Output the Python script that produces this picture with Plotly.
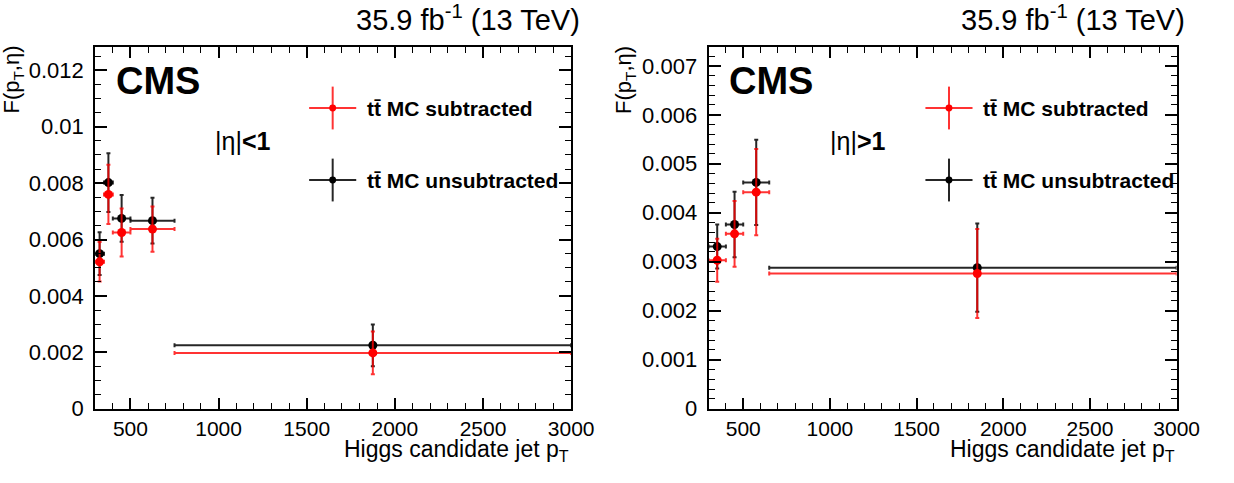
import plotly.graph_objects as go

# ---------------- data ----------------
# Left panel: |eta| < 1
xL = [325, 375, 450, 625, 1875]
xL_lo = [300, 350, 400, 500, 750]
xL_hi = [350, 400, 500, 750, 3000]
subL = [0.00521, 0.00760, 0.00625, 0.00637, 0.00198]
subL_err = [0.00070, 0.00105, 0.00085, 0.00080, 0.00076]
unsubL = [0.00550, 0.00802, 0.00675, 0.00667, 0.00225]
unsubL_err = [0.00076, 0.00104, 0.00083, 0.00081, 0.00074]

# Right panel: |eta| > 1
xR = [350, 450, 575, 1850]
xR_lo = [300, 400, 500, 650]
xR_hi = [400, 500, 650, 3000]
subR = [0.00303, 0.00357, 0.00442, 0.00276]
subR_err = [0.00044, 0.00067, 0.00088, 0.00091]
unsubR = [0.00331, 0.00376, 0.00462, 0.00288]
unsubR_err = [0.00045, 0.00067, 0.00087, 0.00090]

labels = ["t\u0074\u0304 MC subtracted", "t\u0074\u0304 MC unsubtracted"]
lumi_text = "35.9 fb<sup>-1</sup> (13 TeV)"
xtitle = "Higgs candidate jet p<sub>T</sub>"
ytitle = "F(p<sub>T</sub>,η)"

# ---------------- style ----------------
W, H = 1234, 483
FONT = "Liberation Sans"
RED_L = "rgba(255,0,0,0.80)"
RED_M = "rgb(255,0,0)"
BLK_L = "rgba(0,0,0,0.85)"
BLK_M = "rgb(0,0,0)"

def px(x):
    return x / W

def py(y):
    return 1 - y / H

panels = [
    dict(x=xL, lo=xL_lo, hi=xL_hi, sub=subL, suberr=subL_err, uns=unsubL, unserr=unsubL_err,
         xdom=(97, 582), yrange=[0, 0.01284], dtick=0.002, minor=0.0005, eta="|η|<b><1</b>",
         eta_x=217, leg_x=339, leg_tx=372, ytitle_x=13, suffix=""),
    dict(x=xR, lo=xR_lo, hi=xR_hi, sub=subR, suberr=subR_err, uns=unsubR, unserr=unsubR_err,
         xdom=(722, 1199), yrange=[0, 0.00739], dtick=0.001, minor=0.0002, eta="|η|<b>>1</b>",
         eta_x=844, leg_x=967, leg_tx=1000, ytitle_x=637, suffix="2"),
]

fig = go.Figure()
annotations = []
shapes = []
ytop, ybot = 48, 420

for p in panels:
    sfx = p["suffix"]
    xa = "x" + sfx
    ya = "y" + sfx
    ex_plus = [h - c for h, c in zip(p["hi"], p["x"])]
    ex_minus = [c - l for l, c in zip(p["lo"], p["x"])]
    for yv, err, lc, mc in [(p["uns"], p["unserr"], BLK_L, BLK_M), (p["sub"], p["suberr"], RED_L, RED_M)]:
        fig.add_trace(go.Scatter(
            x=p["x"], y=yv, mode="markers", xaxis=xa, yaxis=ya, showlegend=False,
            marker=dict(color=mc, size=9),
            error_x=dict(type="data", array=ex_plus, arrayminus=ex_minus, symmetric=False,
                         color=lc, thickness=2, width=2),
            error_y=dict(type="data", array=err, color=lc, thickness=2, width=2),
        ))
    x0, x1 = p["xdom"]
    axis_common = dict(showline=True, linewidth=2, linecolor="black", mirror="allticks",
                       ticks="inside", tickwidth=1.5, tickcolor="black", showgrid=False,
                       zeroline=False)
    fig.update_layout(**{
        ("xaxis" + sfx): dict(domain=[px(x0), px(x1)], range=[300, 3000], tick0=500, dtick=500,
                              tickformat="d", ticklen=11, anchor=ya, ticklabelstandoff=0,
                              tickfont=dict(family=FONT, size=21, color="black"),
                              minor=dict(ticks="inside", dtick=100, ticklen=6, tickwidth=1.2,
                                         tickcolor="black", showgrid=False),
                              **axis_common),
        ("yaxis" + sfx): dict(domain=[py(ybot), py(ytop)], range=p["yrange"], tick0=0,
                              dtick=p["dtick"], ticklen=12, anchor=xa, ticklabelstandoff=5,
                              tickfont=dict(family=FONT, size=22, color="black"),
                              minor=dict(ticks="inside", dtick=p["minor"], ticklen=6, tickwidth=1.2,
                                         tickcolor="black", showgrid=False),
                              **axis_common),
    })
    # Top-right luminosity label
    annotations.append(dict(x=px(x1 + 11), y=py(39), xref="paper", yref="paper", xanchor="right",
                            yanchor="bottom", text=lumi_text, showarrow=False,
                            font=dict(family=FONT, size=29, color="black")))
    # x title
    annotations.append(dict(x=px(x1), y=py(480), xref="paper", yref="paper", xanchor="right",
                            yanchor="bottom", text=xtitle, showarrow=False,
                            font=dict(family=FONT, size=23, color="black")))
    # y title
    annotations.append(dict(x=px(p["ytitle_x"]), y=py(45), xref="paper", yref="paper",
                            xanchor="center", yanchor="top", textangle=-90, text=ytitle,
                            showarrow=False, font=dict(family=FONT, size=22, color="black")))
    # CMS
    annotations.append(dict(x=px(x0 + 19), y=py(83), xref="paper", yref="paper", xanchor="left",
                            yanchor="middle", text="<b>CMS</b>", showarrow=False,
                            font=dict(family=FONT, size=38, color="black")))
    # eta label
    annotations.append(dict(x=px(p["eta_x"]), y=py(145), xref="paper", yref="paper",
                            xanchor="left", yanchor="middle", text=p["eta"], showarrow=False,
                            font=dict(family=FONT, size=25, color="black")))
    # legend entries
    for yc, lc, mc, lab in [(111, RED_L, RED_M, labels[0]), (185, BLK_L, BLK_M, labels[1])]:
        lx = p["leg_x"]
        shapes.append(dict(type="line", xref="paper", yref="paper", x0=px(lx - 24), x1=px(lx + 24),
                           y0=py(yc), y1=py(yc), line=dict(color=lc, width=2)))
        shapes.append(dict(type="line", xref="paper", yref="paper", x0=px(lx), x1=px(lx),
                           y0=py(yc - 22), y1=py(yc + 22), line=dict(color=lc, width=2)))
        shapes.append(dict(type="circle", xref="paper", yref="paper", x0=px(lx - 3.5), x1=px(lx + 3.5),
                           y0=py(yc - 3.5), y1=py(yc + 3.5), fillcolor=mc, line=dict(width=0)))
        annotations.append(dict(x=px(p["leg_tx"]), y=py(yc + 1), xref="paper", yref="paper",
                                xanchor="left", yanchor="middle", text="<b>" + lab + "</b>",
                                showarrow=False, font=dict(family=FONT, size=21, color="black")))

fig.update_layout(width=W, height=H, margin=dict(l=0, r=0, t=0, b=0),
                  paper_bgcolor="white", plot_bgcolor="white",
                  annotations=annotations, shapes=shapes, showlegend=False)

fig.write_html("out.html")
